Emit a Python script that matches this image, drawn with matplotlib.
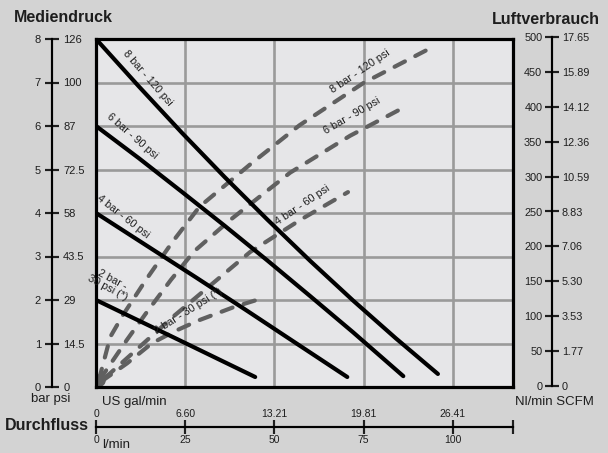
import matplotlib
matplotlib.use("Agg")
import matplotlib.pyplot as plt

plt.rcParams['font.family'] = ['Liberation Sans', 'DejaVu Sans']

# --- data ---------------------------------------------------------------
# solid curves: Mediendruck (bar) over Durchfluss (l/min)
flow_8 = [0, 12, 24, 36, 48, 60, 72, 84, 95.8]
bar_8 = [8.0, 6.91, 5.85, 4.83, 3.85, 2.90, 1.99, 1.12, 0.30]
flow_6 = [0, 12, 24, 36, 48, 60, 72, 86.1]
bar_6 = [6.0, 5.26, 4.49, 3.71, 2.91, 2.09, 1.26, 0.25]
flow_4 = [0, 14, 28, 42, 56, 70.4]
bar_4 = [4.0, 3.26, 2.52, 1.77, 1.01, 0.23]
flow_2 = [0, 22, 44.6]
bar_2 = [2.0, 1.13, 0.23]

# dashed curves: Luftverbrauch (Nl/min) over Durchfluss (l/min)
aflow_8 = [0.8, 4, 7.5, 14, 21.5, 29, 43, 57, 75, 94.5]
air_8 = [10, 72, 103, 154, 209, 259, 319, 376, 437, 489]
aflow_6 = [1, 8.7, 14.3, 21, 27.5, 37.6, 54.4, 71.2, 86]
air_6 = [10, 68, 108, 154, 195, 240, 308, 361, 401]
aflow_4 = [2.5, 12.3, 21.6, 33.9, 43.2, 57.2, 70.6]
air_4 = [13, 58, 101, 154, 194, 240, 280]
aflow_2 = [1.5, 8.7, 15.7, 22, 28.9, 38.7, 45]
air_2 = [8, 34, 63, 80, 96, 115, 125]

bar_ticks = [0, 1, 2, 3, 4, 5, 6, 7, 8]
psi_labels = ['0', '14.5', '29', '43.5', '58', '72.5', '87', '100', '126']
nl_ticks = [0, 50, 100, 150, 200, 250, 300, 350, 400, 450, 500]
scfm_labels = ['0', '1.77', '3.53', '5.30', '7.06', '8.83', '10.59', '12.36',
               '14.12', '15.89', '17.65']
lmin_ticks = [0, 25, 50, 75, 100]
gal_labels = ['0', '6.60', '13.21', '19.81', '26.41']
flow_max = 116.7

W, H = 608, 453
BG = '#d3d3d3'
DASH = '#606060'
TXT = '#1e1e1e'


def fx(x):
    return x / W


def fy(y):
    return 1 - y / H


fig = plt.figure(figsize=(W / 100, H / 100), dpi=100, facecolor=BG)

# --- main plot ----------------------------------------------------------
ax = fig.add_axes([fx(96), fy(387), (512.5 - 96) / W, (387 - 39) / H])
ax.set_facecolor('#e6e6e8')
ax.set_xlim(0, flow_max)
ax.set_ylim(0, 8)
ax.set_xticks(lmin_ticks[1:])
ax.set_yticks(bar_ticks[1:-1])
ax.grid(True, color='#9a9a9a', lw=1.9)
ax.set_axisbelow(True)
ax.tick_params(length=0, labelbottom=False, labelleft=False)
for s in ax.spines.values():
    s.set_linewidth(2.3)
    s.set_color('black')

axc = ax.twinx()
axc.set_ylim(0, 500)
axc.set_axis_off()

dash_kw = dict(color=DASH, lw=3.0, ls=(0, (2.8, 2.8)), dash_capstyle='round',
               transform=axc.transData, zorder=2)
for fx_, ar in [(aflow_8, air_8), (aflow_6, air_6), (aflow_4, air_4), (aflow_2, air_2)]:
    ax.plot(fx_, ar, **dash_kw)
ax.plot(aflow_8[0], air_8[0], 'o', ms=8, color=DASH, transform=axc.transData, zorder=2)

for fl, pr in [(flow_8, bar_8), (flow_6, bar_6), (flow_4, bar_4), (flow_2, bar_2)]:
    ax.plot(fl, pr, color='black', lw=3.0, solid_capstyle='round',
            solid_joinstyle='round', zorder=3)

# --- curve labels -------------------------------------------------------
lab = dict(fontsize=7.8, color=TXT, ha='center', va='center', rotation_mode='anchor')
fig.text(fx(148), fy(78), '8 bar - 120 psi', rotation=-49, **lab)
fig.text(fx(132), fy(136), '6 bar - 90 psi', rotation=-41, **lab)
fig.text(fx(123), fy(217), '4 bar - 60 psi', rotation=-38, **lab)
fig.text(fx(110), fy(284), '2 bar -\n30 psi (*)', rotation=-28, linespacing=0.95, **lab)

fig.text(fx(360), fy(71), '8 bar - 120 psi', rotation=34, **lab)
fig.text(fx(352), fy(116), '6 bar - 90 psi', rotation=30, **lab)
fig.text(fx(303), fy(205), '4 bar - 60 psi', rotation=34, **lab)
fig.text(fx(188), fy(311), '2 bar - 30 psi (*)', rotation=32, **lab)

# --- left scale ---------------------------------------------------------
axL = fig.add_axes([fx(52), fy(387), 1e-4, (387 - 39) / H])
axL.patch.set_visible(False)
axL.set_ylim(0, 8)
axL.set_xticks([])
for k in ['top', 'bottom', 'right']:
    axL.spines[k].set_visible(False)
axL.spines['left'].set_linewidth(1.5)
axL.set_yticks(bar_ticks, labels=[str(b) for b in bar_ticks])
axL.tick_params(axis='y', direction='inout', length=10, width=1.5,
                labelsize=8, pad=3, colors=TXT)
axL2 = axL.twinx()
axL2.set_ylim(0, 8)
for k in ['top', 'bottom', 'left']:
    axL2.spines[k].set_visible(False)
axL2.spines['right'].set_linewidth(1.5)
axL2.set_yticks(bar_ticks, labels=psi_labels)
axL2.tick_params(axis='y', direction='inout', length=10, width=1.5,
                 labelsize=8, pad=3, colors=TXT)

# --- right scale --------------------------------------------------------
axR = fig.add_axes([fx(552), fy(386), 1e-4, (386 - 37) / H])
axR.patch.set_visible(False)
axR.set_ylim(0, 500)
axR.set_xticks([])
for k in ['top', 'bottom', 'right']:
    axR.spines[k].set_visible(False)
axR.spines['left'].set_linewidth(1.5)
axR.set_yticks(nl_ticks, labels=[str(n) for n in nl_ticks])
axR.tick_params(axis='y', direction='inout', length=10, width=1.5,
                labelsize=7.8, pad=2, colors=TXT)
axR2 = axR.twinx()
axR2.set_ylim(0, 500)
for k in ['top', 'bottom', 'left']:
    axR2.spines[k].set_visible(False)
axR2.spines['right'].set_linewidth(1.5)
axR2.set_yticks(nl_ticks, labels=scfm_labels)
axR2.tick_params(axis='y', direction='inout', length=10, width=1.5,
                 labelsize=7.8, pad=2, colors=TXT)

# --- bottom scale -------------------------------------------------------
axB = fig.add_axes([fx(96), fy(427), (512.5 - 96) / W, 1e-4])
axB.patch.set_visible(False)
axB.set_xlim(0, flow_max)
axB.set_yticks([])
for k in ['top', 'left', 'right']:
    axB.spines[k].set_visible(False)
axB.spines['bottom'].set_linewidth(1.5)
axB.set_xticks(lmin_ticks + [flow_max], labels=[str(t) for t in lmin_ticks] + [''])
axB.tick_params(axis='x', direction='inout', length=10, width=1.5,
                labelsize=7.5, pad=1, colors=TXT)
axB2 = axB.twiny()
axB2.set_xlim(0, flow_max)
for k in ['bottom', 'left', 'right']:
    axB2.spines[k].set_visible(False)
axB2.spines['top'].set_linewidth(1.5)
axB2.set_xticks(lmin_ticks + [flow_max], labels=gal_labels + [''])
axB2.tick_params(axis='x', direction='inout', length=10, width=1.5,
                 labelsize=7.5, pad=1, colors=TXT)

# --- titles / units -----------------------------------------------------
fig.text(fx(14), fy(18), 'Mediendruck', fontsize=11.5, fontweight='bold', color=TXT, va='center')
fig.text(fx(600), fy(20), 'Luftverbrauch', fontsize=11.5, fontweight='bold', color=TXT,
         va='center', ha='right')
fig.text(fx(5), fy(425), 'Durchfluss', fontsize=11.5, fontweight='bold', color=TXT, va='center')
fig.text(fx(51), fy(399), 'bar psi', fontsize=9.5, color=TXT, va='center', ha='center')
fig.text(fx(102), fy(402), 'US gal/min', fontsize=9.5, color=TXT, va='center')
fig.text(fx(102), fy(445), 'l/min', fontsize=9.5, color=TXT, va='center')
fig.text(fx(515), fy(402), 'Nl/min SCFM', fontsize=9.5, color=TXT, va='center')

fig.savefig('out.png', dpi=100, facecolor=BG)
